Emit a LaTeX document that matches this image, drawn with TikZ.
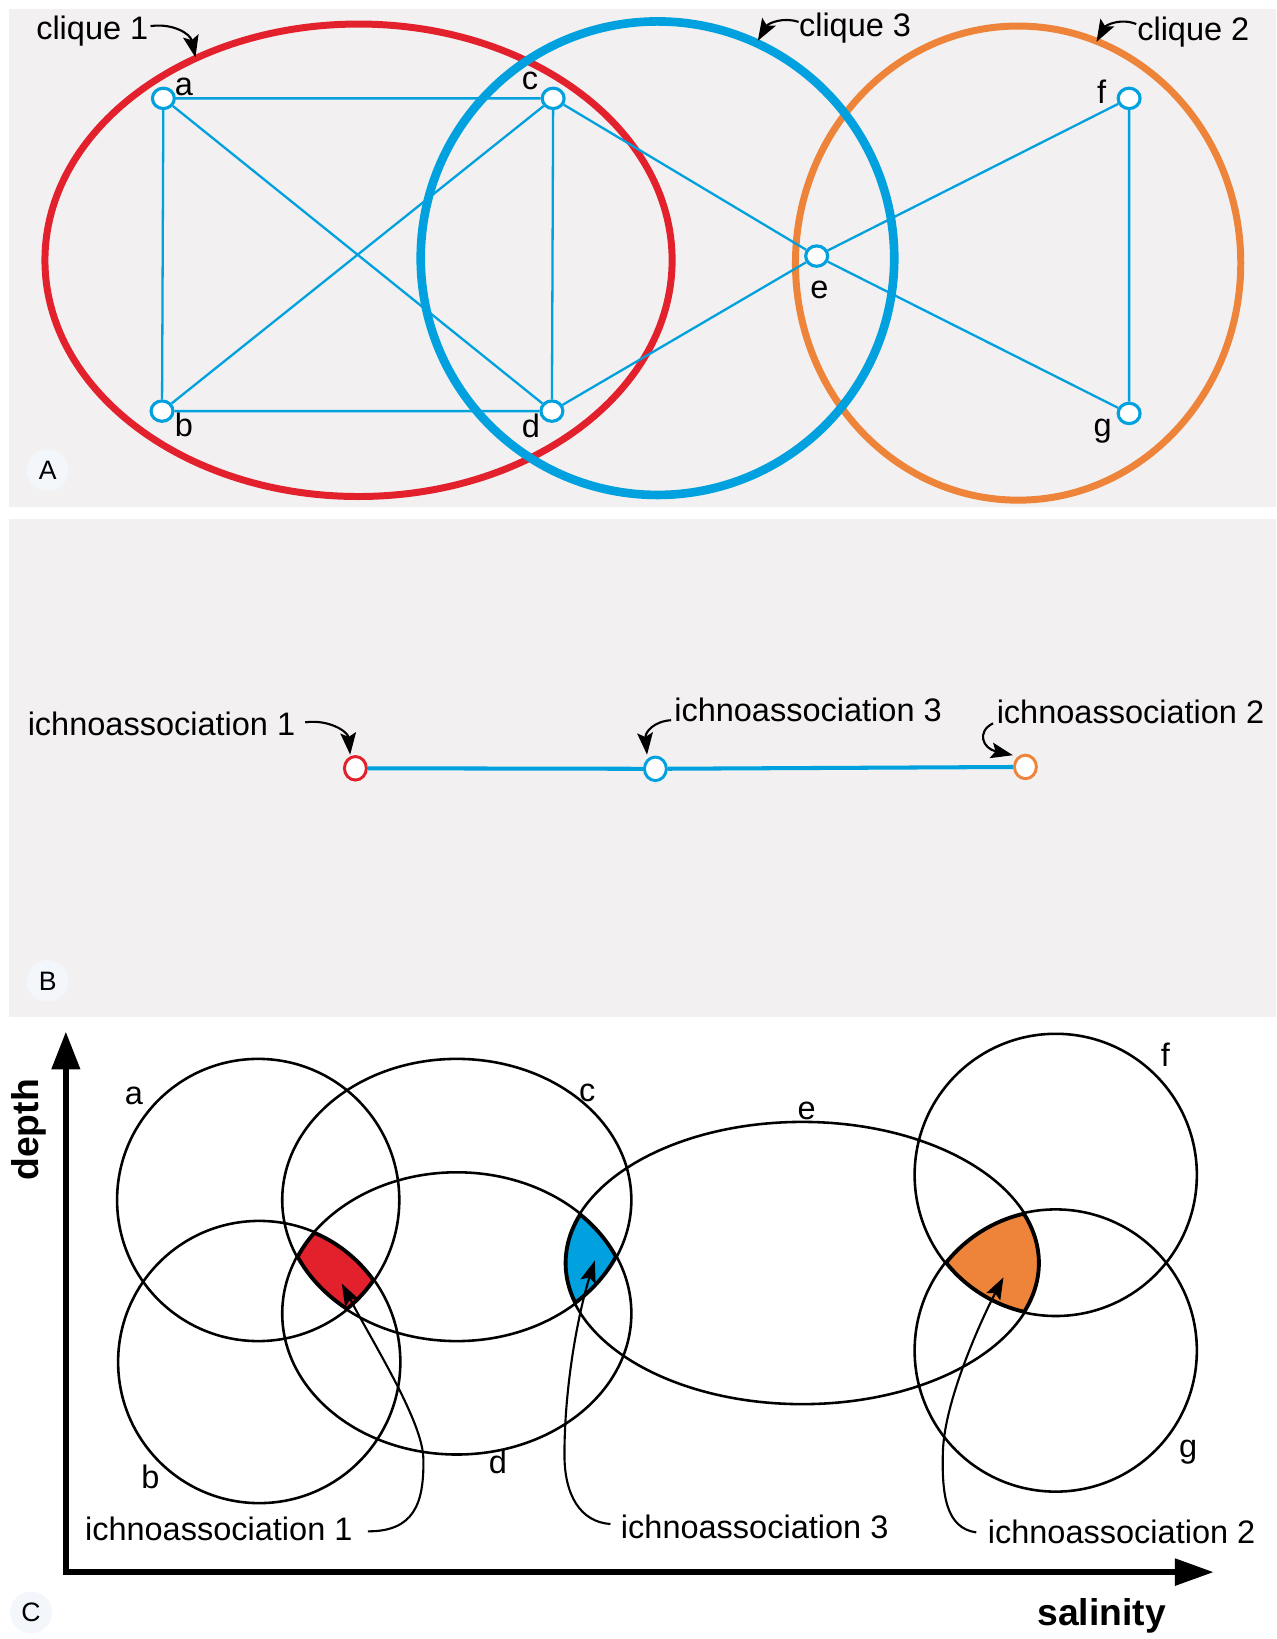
\documentclass[tikz,border=0pt]{standalone}
\usepackage{fontspec}
\setmainfont{Liberation Sans}
\usetikzlibrary{arrows.meta,shapes.geometric}
\definecolor{panelgray}{HTML}{F2F0F1}
\definecolor{labelbg}{HTML}{F3F6FA}
\definecolor{cred}{HTML}{E3212D}
\definecolor{cblue}{HTML}{00A1DE}
\definecolor{corange}{HTML}{EE8439}
\begin{document}
\begin{tikzpicture}[x=0.02cm,y=-0.02cm,
 txt/.style={font=\fontsize{17.7}{21}\selectfont, inner sep=0pt, anchor=base},
 btxt/.style={font=\fontsize{20.3}{24}\selectfont\bfseries, inner sep=0pt, anchor=base},
 plabel/.style={circle, fill=labelbg, minimum size=0.8cm, inner sep=0pt, font=\fontsize{14.5}{17}\selectfont},
 gnode/.style={ellipse, draw=cblue, fill=white, line width=1.7pt, minimum width=0.42cm, minimum height=0.39cm, inner sep=0pt},
 bnode/.style={ellipse, fill=white, line width=1.6pt, minimum width=0.42cm, minimum height=0.45cm, inner sep=0pt},
 gedge/.style={draw=cblue, line width=1.25pt},
 arr/.style={line width=1.15pt, -{Stealth[length=0.42cm,width=0.3cm,inset=0.08cm]}},
 venn/.style={line width=1.4pt},
 region/.style={line width=2.8pt},
]
\useasboundingbox (0,0) rectangle (1221,1568);

% ---------- panel backgrounds ----------
\fill[panelgray] (8.6,8.6) rectangle (1221,485);
\fill[panelgray] (8.6,496.7) rectangle (1221,973);

% ================= Panel A =================
\draw[cred, line width=3.8pt] (343,249) ellipse [x radius=300, y radius=226];
\draw[corange, line width=3.8pt] (974,251.7) ellipse [x radius=213, y radius=226.8];
\draw[cblue, line width=4.7pt] (629,247) ellipse [x radius=226.5, y radius=226.5];

\node[gnode] (a) at (156.3,94.1) {};
\node[gnode] (b) at (155,393.3) {};
\node[gnode] (c) at (529.2,94.1) {};
\node[gnode] (d) at (528,393.3) {};
\node[gnode] (e) at (781.3,245) {};
\node[gnode] (f) at (1080.2,94.1) {};
\node[gnode] (g) at (1080.2,395.5) {};

\draw[gedge] (a) -- (c) (a) -- (b) (a) -- (d) (b) -- (c) (b) -- (d) (c) -- (d)
  (c) -- (e) (d) -- (e) (e) -- (f) (e) -- (g) (f) -- (g);

\node[txt] (la) at (176,91) {a};
\node[txt] (lb) at (176,418) {b};
\node[txt] (lc) at (507,86) {c};
\node[txt] (ld) at (508,419) {d};
\node[txt] (le) at (784,286) {e};
\node[txt] (lf) at (1054,99) {f};
\node[txt] (lg) at (1055,418) {g};

\node[txt] (q1) at (88.3,37.6) {clique 1};
\node[txt] (q3) at (818,35.1) {clique 3};
\node[txt] (q2) at (1141.6,38.3) {clique 2};
\coordinate (q1s) at (144,25);  \coordinate (q1t) at (187,55);
\coordinate (q3s) at (764,21);  \coordinate (q3t) at (725,39);
\coordinate (q2s) at (1087,23); \coordinate (q2t) at (1049,40);
\draw[arr] (q1s) .. controls (165,22) and (182,32) .. (q1t);
\draw[arr] (q3s) .. controls (750,16) and (735,22) .. (q3t);
\draw[arr] (q2s) .. controls (1072,17) and (1058,24) .. (q2t);

\node[plabel] (pA) at (45.6,449.8) {A};

% ================= Panel B =================
\node[bnode, draw=cred] (i1) at (340,735) {};
\node[bnode, draw=cblue] (i3) at (627,735.5) {};
\node[bnode, draw=corange] (i2) at (981,733.7) {};
\draw[cblue, line width=2.2pt] (i1) -- (i3) -- (i2);

\node[txt] (t1) at (154.5,703.3) {ichnoassociation 1};
\node[txt] (t3) at (773,690.6) {ichnoassociation 3};
\node[txt] (t2) at (1081.5,692.2) {ichnoassociation 2};
\coordinate (t1s) at (292,691); \coordinate (t1t) at (335,722);
\coordinate (t3s) at (642,689); \coordinate (t3t) at (619,722);
\coordinate (t2s) at (950,692); \coordinate (t2t) at (969,722.5);
\draw[arr] (t1s) .. controls (315,688) and (333,700) .. (t1t);
\draw[arr] (t3s) .. controls (626,690) and (617,700) .. (t3t);
\draw[arr] (t2s) .. controls (934,700) and (940,716) .. (t2t);

\node[plabel] (pB) at (45.6,938.4) {B};

% ================= Panel C =================
% filled intersections
\begin{scope}
 \clip (247,1148) ellipse [x radius=135, y radius=135];
 \clip (248,1303) ellipse [x radius=135, y radius=135];
 \clip (437,1148) ellipse [x radius=167, y radius=135];
 \clip (437,1256.5) ellipse [x radius=167, y radius=135];
 \fill[cred] (0,980) rectangle (1221,1500);
 \draw[region] (247,1148) ellipse [x radius=135, y radius=135]
   (248,1303) ellipse [x radius=135, y radius=135]
   (437,1148) ellipse [x radius=167, y radius=135]
   (437,1256.5) ellipse [x radius=167, y radius=135];
\end{scope}
\begin{scope}
 \clip (437,1148) ellipse [x radius=167, y radius=135];
 \clip (437,1256.5) ellipse [x radius=167, y radius=135];
 \clip (767.5,1208.3) ellipse [x radius=227, y radius=135];
 \fill[cblue] (0,980) rectangle (1221,1500);
 \draw[region] (437,1148) ellipse [x radius=167, y radius=135]
   (437,1256.5) ellipse [x radius=167, y radius=135]
   (767.5,1208.3) ellipse [x radius=227, y radius=135];
\end{scope}
\begin{scope}
 \clip (767.5,1208.3) ellipse [x radius=227, y radius=135];
 \clip (1010,1124) ellipse [x radius=135, y radius=135];
 \clip (1010,1292) ellipse [x radius=135, y radius=135];
 \fill[corange] (0,980) rectangle (1221,1500);
 \draw[region] (767.5,1208.3) ellipse [x radius=227, y radius=135]
   (1010,1124) ellipse [x radius=135, y radius=135]
   (1010,1292) ellipse [x radius=135, y radius=135];
\end{scope}

% outlines
\draw[venn] (247,1148) ellipse [x radius=135, y radius=135];
\draw[venn] (248,1303) ellipse [x radius=135, y radius=135];
\draw[venn] (437,1148) ellipse [x radius=167, y radius=135];
\draw[venn] (437,1256.5) ellipse [x radius=167, y radius=135];
\draw[venn] (767.5,1208.3) ellipse [x radius=227, y radius=135];
\draw[venn] (1010,1124) ellipse [x radius=135, y radius=135];
\draw[venn] (1010,1292) ellipse [x radius=135, y radius=135];

\node[txt] (ca) at (128,1056.6) {a};
\node[txt] (cb) at (144,1424.3) {b};
\node[txt] (cc) at (561.8,1053.6) {c};
\node[txt] (cd) at (476.3,1409.2) {d};
\node[txt] (ce) at (771.8,1070.6) {e};
\node[txt] (cf) at (1114.8,1020.7) {f};
\node[txt] (cg) at (1136.7,1394) {g};

\node[txt] (u1) at (209.3,1473.5) {ichnoassociation 1};
\node[txt] (u3) at (722,1471.6) {ichnoassociation 3};
\node[txt] (u2) at (1073,1477) {ichnoassociation 2};
\coordinate (u1s) at (352,1465); \coordinate (u1m) at (405,1395); \coordinate (u1t) at (327,1228);
\coordinate (u3s) at (584,1458); \coordinate (u3m) at (540,1392); \coordinate (u3t) at (569,1206);
\coordinate (u2s) at (934,1466); \coordinate (u2m) at (902,1390); \coordinate (u2t) at (960,1222);
\draw[arr] (u1s) .. controls (395,1465) and (406,1440) .. (u1m)
   .. controls (404,1360) and (360,1290) .. (u1t);
\draw[arr] (u3s) .. controls (555,1456) and (540,1430) .. (u3m)
   .. controls (540,1320) and (555,1250) .. (u3t);
\draw[arr] (u2s) .. controls (905,1462) and (901,1430) .. (u2m)
   .. controls (903,1340) and (940,1260) .. (u2t);

% axes
\coordinate (ytip) at (63,987);
\coordinate (orig) at (63,1504);
\coordinate (xtip) at (1161,1504);
\draw[line width=2.9pt, line join=miter,
  {Triangle[length=0.72cm,width=0.53cm]}-{Triangle[length=0.74cm,width=0.5cm]}]
  (ytip) -- (orig) -- (xtip);
\node[btxt, rotate=90] (depth) at (37,1081) {depth};
\node[btxt] (sal) at (1054,1554.7) {salinity};

\node[plabel] (pC) at (29.7,1542.6) {C};
\end{tikzpicture}
\end{document}
